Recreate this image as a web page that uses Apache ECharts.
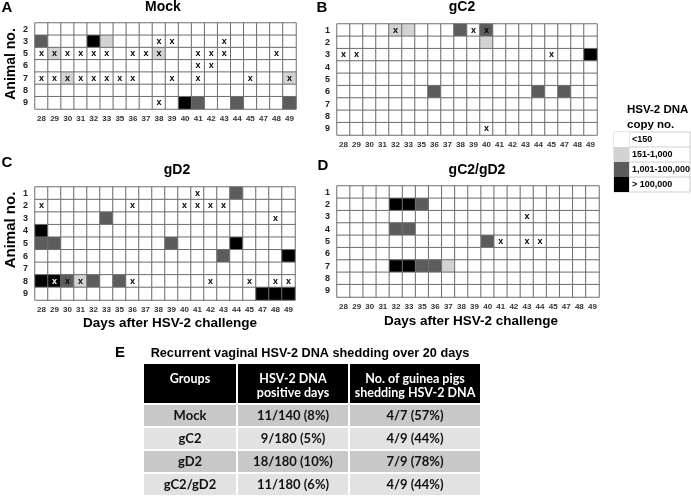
<!DOCTYPE html>
<html><head><meta charset="utf-8">
<script src="https://cdn.jsdelivr.net/npm/echarts@6/dist/echarts.min.js"></script>
<style>html,body{margin:0;padding:0;background:#fff}#c{width:691px;height:497px}</style>
</head><body><div id="c"></div>
<script>
// ---- data ----
const days = [28,29,30,31,32,33,35,36,37,38,39,40,41,42,43,44,45,47,48,49];
const mockAnimals = [2,3,5,6,7,8,9];
const vaccAnimals = [1,2,3,4,5,6,7,8,9];
// [day, animal, level] level: 1=151-1,000 2=1,001-100,000 3=>100,000 (others <150)
const mockCells = [[28,3,2],[32,3,3],[33,3,1],[29,5,1],[38,5,1],[30,7,1],[49,7,1],[40,9,3],[41,9,2],[44,9,2],[49,9,2]];
const mockMarks = [[38,3],[39,3],[43,3],[28,5],[29,5],[30,5],[31,5],[32,5],[33,5],[36,5],[37,5],[38,5],[41,5],[42,5],[43,5],[48,5],[41,6],[42,6],[28,7],[29,7],[30,7],[31,7],[32,7],[33,7],[35,7],[36,7],[39,7],[41,7],[45,7],[49,7],[38,9]];
const gc2Cells = [[32,1,1],[33,1,1],[38,1,2],[40,1,2],[40,2,1],[49,3,3],[36,6,2],[44,6,2],[47,6,2]];
const gc2Marks = [[32,1],[39,1],[40,1],[28,3],[29,3],[45,3],[40,9]];
const gd2Cells = [[44,1,2],[33,3,2],[28,4,3],[28,5,2],[29,5,2],[39,5,2],[44,5,3],[43,6,2],[49,6,3],[28,8,3],[29,8,3],[30,8,2],[31,8,1],[32,8,2],[35,8,2],[47,9,3],[48,9,3],[49,9,3]];
const gd2Marks = [[41,1],[28,2],[36,2],[40,2],[41,2],[42,2],[43,2],[48,3],[29,8],[30,8],[31,8],[36,8],[42,8],[45,8],[48,8],[49,8]];
const comboCells = [[32,2,3],[33,2,3],[35,2,2],[32,4,2],[33,4,2],[40,5,2],[32,7,3],[33,7,3],[35,7,2],[36,7,2],[37,7,1]];
const comboMarks = [[43,3],[41,5],[43,5],[44,5]];
const levelLabels = ['<150','151-1,000','1,001-100,000','> 100,000'];
const levelColors = ['#ffffff','#d3d3d3','#5c5c5c','#000000'];
const tableHeaders = ['Groups','HSV-2 DNA\npositive days','No. of guinea pigs\nshedding HSV-2 DNA'];
const tableGroups = ['Mock','gC2','gD2','gC2/gD2'];
const tablePositiveDays = ['11/140 (8%)','9/180 (5%)','18/180 (10%)','11/180 (6%)'];
const tableShedding = ['4/7 (57%)','4/9 (44%)','7/9 (78%)','4/9 (44%)'];

// ---- layout ----
const panels = [
  {title:'Mock', letter:'A', animals:mockAnimals, cells:mockCells, marks:mockMarks, grid:{left:35, top:23, width:261, height:86}, tx:163, ty:7, lx:7, ly:8},
  {title:'gC2', letter:'B', animals:vaccAnimals, cells:gc2Cells, marks:gc2Marks, grid:{left:337, top:24, width:260, height:111}, tx:462, ty:7, lx:322, ly:8},
  {title:'gD2', letter:'C', animals:vaccAnimals, cells:gd2Cells, marks:gd2Marks, grid:{left:35, top:187, width:260, height:113}, tx:177, ty:170, lx:7, ly:163},
  {title:'gC2/gD2', letter:'D', animals:vaccAnimals, cells:comboCells, marks:comboMarks, grid:{left:337, top:186, width:262, height:111}, tx:477, ty:170, lx:323, ly:166}
];
const BOLD = 'bold 14px "Liberation Sans", Arial, sans-serif';

const grids = [], xAxes = [], yAxes = [], series = [], graphics = [];
function txt(x, y, text, font, fill, align, extra) {
  return Object.assign({type:'text', x:x, y:y, silent:true, style:{text:text, font:font, fill:fill||'#000',
    align:align||'center', textAlign:align||'center', verticalAlign:'middle', textVerticalAlign:'middle'}}, extra||{});
}
panels.forEach((p, i) => {
  grids.push(Object.assign({containLabel:false}, p.grid));
  xAxes.push({type:'category', gridIndex:i, data:days.map(String),
    axisLine:{show:false}, axisTick:{show:false}, splitLine:{show:false},
    axisLabel:{interval:0, fontSize:8, fontWeight:'bold', color:'#333', margin:6, fontFamily:'"Liberation Sans", Arial, sans-serif'}});
  yAxes.push({type:'category', gridIndex:i, inverse:true, data:p.animals.map(String),
    axisLine:{show:false}, axisTick:{show:false}, splitLine:{show:false},
    axisLabel:{fontSize:9, fontWeight:'bold', color:'#222', margin:7, fontFamily:'"Liberation Sans", Arial, sans-serif'}});
  const data = [];
  p.animals.forEach(a => days.forEach(d => {
    const c = p.cells.find(v => v[0] === d && v[1] === a);
    const lvl = c ? c[2] : 0;
    const mk = p.marks.some(v => v[0] === d && v[1] === a) ? 1 : 0;
    data.push({value:[String(d), String(a), lvl, mk], label:{color: lvl === 3 ? '#fff' : '#000'}});
  }));
  series.push({type:'heatmap', xAxisIndex:i, yAxisIndex:i, data:data,
    itemStyle:{borderColor:'#6e6e6e', borderWidth:1},
    label:{show:true, fontSize:9, fontWeight:'bold', fontFamily:'"Liberation Sans", Arial, sans-serif',
      formatter: q => q.data.value[3] ? 'x' : ''},
    emphasis:{disabled:true}, animation:false});
  graphics.push(txt(p.tx, p.ty, p.title, BOLD));
  graphics.push(txt(p.lx, p.ly, p.letter, 'bold 15px "Liberation Sans", Arial, sans-serif'));
});
// axis names
graphics.push(txt(11, 64, 'Animal no.', BOLD, '#000', 'center', {rotation:Math.PI/2}));
graphics.push(txt(11, 230, 'Animal no.', 'bold 15px "Liberation Sans", Arial, sans-serif', '#000', 'center', {rotation:Math.PI/2}));
graphics.push(txt(170, 323, 'Days after HSV-2 challenge', 'bold 13.5px "Liberation Sans", Arial, sans-serif'));
graphics.push(txt(471, 321, 'Days after HSV-2 challenge', 'bold 13.5px "Liberation Sans", Arial, sans-serif'));
// legend title + table lines
graphics.push(txt(627, 110, 'HSV-2 DNA', 'bold 11.5px "Liberation Sans", Arial, sans-serif', '#000', 'left'));
graphics.push(txt(627, 125, 'copy no.', 'bold 11.5px "Liberation Sans", Arial, sans-serif', '#000', 'left'));
const lgTop = 132, lgRow = 15, lgLeft = 614, lgRight = 690;
graphics.push({type:'rect', silent:true, z:-1, shape:{x:lgLeft, y:lgTop, width:lgRight-lgLeft, height:lgRow*levelLabels.length}, style:{fill:'none', stroke:'#cfcfcf', lineWidth:1}});
for (let k = 1; k < levelLabels.length; k++) {
  graphics.push({type:'line', silent:true, shape:{x1:lgLeft, y1:lgTop+k*lgRow, x2:lgRight, y2:lgTop+k*lgRow}, style:{stroke:'#cfcfcf', lineWidth:1}});
}
graphics.push({type:'line', silent:true, shape:{x1:lgLeft+15, y1:lgTop, x2:lgLeft+15, y2:lgTop+lgRow*levelLabels.length}, style:{stroke:'#cfcfcf', lineWidth:1}});

// table E
graphics.push(txt(120, 353, 'E', 'bold 15px "Liberation Sans", Arial, sans-serif'));
graphics.push(txt(310, 353, 'Recurrent vaginal HSV-2 DNA shedding over 20 days', 'bold 12.7px "Liberation Sans", Arial, sans-serif'));
const colX = [143, 237, 349, 481];
const hdrTop = 364, hdrH = 39, rowH = 23;
const rowFills = ['#c8c8c8', '#e2e2e2', '#c8c8c8', '#e2e2e2'];
const TF = 'bold 12.5px Lato, "Open Sans", sans-serif';
for (let c = 0; c < 3; c++) {
  graphics.push({type:'rect', silent:true, shape:{x:colX[c]+1, y:hdrTop, width:colX[c+1]-colX[c]-2, height:hdrH}, style:{fill:'#000'}});
  const lines = tableHeaders[c].split('\n');
  lines.forEach((ln, li) => graphics.push(txt((colX[c]+colX[c+1])/2, hdrTop+15+li*14, ln, TF, '#fff')));
  const colVals = [tableGroups, tablePositiveDays, tableShedding][c];
  colVals.forEach((v, r) => {
    const y0 = hdrTop + hdrH + 2 + r*rowH;
    graphics.push({type:'rect', silent:true, shape:{x:colX[c]+1, y:y0, width:colX[c+1]-colX[c]-2, height:rowH-2}, style:{fill:rowFills[r]}});
    graphics.push(txt((colX[c]+colX[c+1])/2, y0+(rowH-2)/2, v, 'bold 13px Lato, "Open Sans", sans-serif', '#111'));
  });
}

const chart = echarts.init(document.getElementById('c'), null, {renderer:'canvas'});
chart.setOption({
  animation:false,
  backgroundColor:'#fff',
  grid:grids, xAxis:xAxes, yAxis:yAxes, series:series,
  visualMap:{type:'piecewise', dimension:2, seriesIndex:[0,1,2,3], orient:'vertical', inverse:true, align:'left',
    left:lgLeft, top:lgTop, itemWidth:15, itemHeight:15, itemGap:0, itemSymbol:'rect', textGap:3, selectedMode:false, padding:0,
    textStyle:{fontSize:9, fontWeight:'bold', color:'#000', fontFamily:'"Liberation Sans", Arial, sans-serif'},
    pieces: levelLabels.map((l, k) => ({value:k, label:l, color:levelColors[k]}))},
  graphic:graphics
});
</script></body></html>
